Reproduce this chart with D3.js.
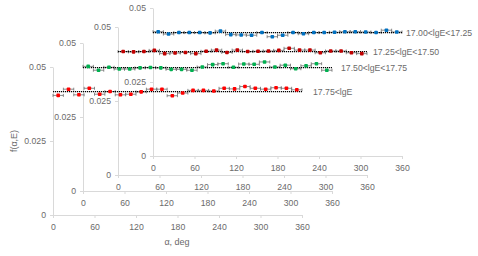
<!DOCTYPE html>
<html>
<head>
<meta charset="utf-8">
<script src="https://cdn.jsdelivr.net/npm/d3@7"></script>
<style>
  body { margin: 0; background: #fff; }
  svg text { font-family: "Liberation Sans", Arial, sans-serif; fill: #6a6a6a; }
  .axis path, .axis line { stroke: #d9d9d9; }
  .axis text { font-size: 8.7px; fill: #6a6a6a; }
</style>
</head>
<body>
<div id="vis"></div>
<script>
const W = 478, H = 256;

// bin centres (15 deg bins)
const angles = d3.range(24).map(i => 7.5 + i * 15);
const binHalf = 7.5;
const xTicks = [0, 60, 120, 180, 240, 300, 360];
const yTicks = [0, 0.025, 0.05];
const fitLevel = 0.04167;

const labels = ['17.00<lgE<17.25', '17.25<lgE<17.50', '17.50<lgE<17.75', '17.75<lgE'];
const colors = ['#0070c0', '#c00000', '#00b050', '#ff0000'];

const vals1700 = [0.0420, 0.0412, 0.0417, 0.0417, 0.0417, 0.0416, 0.0422, 0.0410, 0.0409, 0.0408, 0.0417, 0.0403,
                  0.0408, 0.0417, 0.0413, 0.0417, 0.0417, 0.0418, 0.0420, 0.0420, 0.0419, 0.0417, 0.0425, 0.0419];
const vals1725 = [0.0417, 0.0416, 0.0417, 0.0421, 0.0410, 0.0412, 0.0414, 0.0410, 0.0418, 0.0422, 0.0414, 0.0422,
                  0.0417, 0.0418, 0.0419, 0.0421, 0.0428, 0.0422, 0.0422, 0.0413, 0.0419, 0.0419, 0.0413, 0.0410];
const vals1750 = [0.0421, 0.0408, 0.0418, 0.0412, 0.0412, 0.0416, 0.0417, 0.0416, 0.0411, 0.0411, 0.0408, 0.0419,
                  0.0427, 0.0430, 0.0418, 0.0429, 0.0428, 0.0436, 0.0419, 0.0425, 0.0413, 0.0423, 0.0430, 0.0408];
const vals1775 = [0.0404, 0.0425, 0.0406, 0.0428, 0.0408, 0.0417, 0.0406, 0.0408, 0.0416, 0.0425, 0.0425, 0.0403,
                  0.0412, 0.0421, 0.0421, 0.0419, 0.0428, 0.0426, 0.0434, 0.0428, 0.0425, 0.0430, 0.0428, 0.0423];
const series = [vals1700, vals1725, vals1750, vals1775];

// panel placement (back to front)
const panels = [
  { x0: 153, y0: 156, labelDx: 4 },
  { x0: 118, y0: 175, labelDx: 6 },
  { x0: 83, y0: 191, labelDx: 9 },
  { x0: 53, y0: 215, labelDx: 11 }
];
const pw = 249, ph = 148;

const svg = d3.select('#vis').append('svg')
  .attr('width', W)
  .attr('height', H);

panels.forEach((p, k) => {
  const x = d3.scaleLinear().domain([0, 360]).range([p.x0, p.x0 + pw]);
  const y = d3.scaleLinear().domain([0, 0.05]).range([p.y0, p.y0 - ph]);
  const g = svg.append('g');

  g.append('g')
    .attr('class', 'axis')
    .attr('transform', `translate(0,${p.y0})`)
    .call(d3.axisBottom(x).tickValues(xTicks).tickSize(3).tickSizeOuter(0).tickPadding(4))
    .call(a => a.selectAll('text').attr('dy', '0.9em'));

  g.append('g')
    .attr('class', 'axis')
    .attr('transform', `translate(${p.x0},0)`)
    .call(d3.axisLeft(y).tickValues(yTicks).tickFormat(d => d).tickSize(3).tickSizeOuter(0).tickPadding(4));

  g.selectAll('.axis .domain').attr('stroke', '#d9d9d9');

  const data = series[k].map((v, i) => ({ a: angles[i], v }));

  // error bars
  const eb = g.append('g').attr('stroke', '#6f6f6f').attr('stroke-width', 0.8);
  eb.selectAll('line.h').data(data).join('line')
    .attr('x1', d => x(d.a - binHalf)).attr('x2', d => x(d.a + binHalf))
    .attr('y1', d => y(d.v)).attr('y2', d => y(d.v));
  eb.selectAll('line.c1').data(data).join('line')
    .attr('x1', d => x(d.a - binHalf)).attr('x2', d => x(d.a - binHalf))
    .attr('y1', d => y(d.v) - 1.5).attr('y2', d => y(d.v) + 1.5);
  eb.selectAll('line.c2').data(data).join('line')
    .attr('x1', d => x(d.a + binHalf)).attr('x2', d => x(d.a + binHalf))
    .attr('y1', d => y(d.v) - 1.5).attr('y2', d => y(d.v) + 1.5);

  // flat fit line
  g.append('line')
    .attr('x1', x(0)).attr('x2', x(360))
    .attr('y1', y(fitLevel)).attr('y2', y(fitLevel))
    .attr('stroke', '#000').attr('stroke-width', 1.2)
    .attr('stroke-dasharray', '1.2,0.8');

  // markers
  g.selectAll('rect.pt').data(data).join('rect')
    .attr('class', 'pt')
    .attr('x', d => x(d.a) - 1.8).attr('y', d => y(d.v) - 1.8)
    .attr('width', 3.6).attr('height', 3.6)
    .attr('rx', 0.8)
    .attr('fill', colors[k]);

  g.append('text')
    .attr('x', x(360) + p.labelDx)
    .attr('y', y(fitLevel))
    .attr('dy', '0.35em')
    .style('font-size', '8.7px')
    .text(labels[k]);
});

// axis titles
svg.append('text')
  .attr('transform', 'translate(17,141) rotate(-90)')
  .attr('text-anchor', 'middle')
  .style('font-size', '9px')
  .text('f(α,E)');

svg.append('text')
  .attr('x', 177).attr('y', 245)
  .attr('text-anchor', 'middle')
  .style('font-size', '9px')
  .text('α, deg');
</script>
</body>
</html>
